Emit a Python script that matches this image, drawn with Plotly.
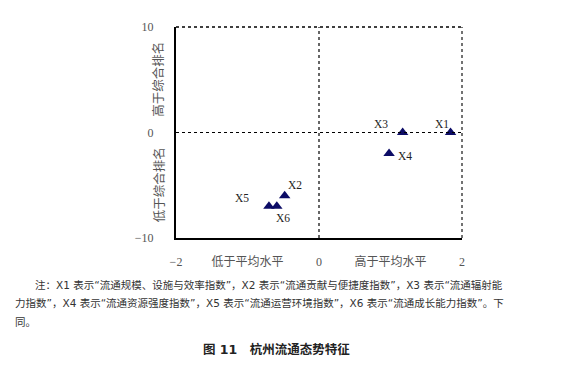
import plotly.graph_objects as go

# Data
labels = ["X1", "X2", "X3", "X4", "X5", "X6"]
x_vals = [1.84, -0.48, 1.17, 0.98, -0.70, -0.59]
y_vals = [0, -6, 0, -2, -7, -7]
# label offsets (pixels) relative to each point
label_dx = [-9, 10, -22, 16, -27, 6]
label_dy = [9, 11, 9, -2, 8, -12]

x_tickvals = [-2, -1, 0, 1, 2]
x_ticktext = ["−2", "低于平均水平", "0", "高于平均水平", "2"]
y_tickvals = [10, 0, -10]
y_ticktext = ["10", "0", "−10"]
y_titles = ["高于综合排名", "低于综合排名"]
y_title_pos = [5, -5]

note_lines = [
    "注：X1 表示“流通规模、设施与效率指数”，X2 表示“流通贡献与便捷度指数”，X3 表示“流通辐射能",
    "力指数”，X4 表示“流通资源强度指数”，X5 表示“流通运营环境指数”，X6 表示“流通成长能力指数”。下",
    "同。",
]
caption = "图 11　杭州流通态势特征"

OFF = 8  # default page body margin
W, H = 579 - OFF, 370 - OFF
L, T = 176 - OFF, 22 - OFF
R = W - (462 - OFF)
B = H - (238 - OFF)
pw, ph = W - L - R, H - T - B


def px_x(px):
    return (px - OFF - L) / pw


def px_y(py):
    return (H - B - (py - OFF)) / ph


serif = "Liberation Serif, DejaVu Serif, Noto Sans CJK SC"
sans = "DejaVu Sans, Noto Sans CJK SC"

fig = go.Figure()
fig.add_trace(go.Scatter(
    x=x_vals, y=y_vals, mode="markers",
    marker=dict(symbol="triangle-up", size=10, color="#0c0c66"),
    hoverinfo="skip", showlegend=False,
))

annotations = []
for lab, xv, yv, dx, dy in zip(labels, x_vals, y_vals, label_dx, label_dy):
    annotations.append(dict(x=xv, y=yv, xref="x", yref="y", text=lab, showarrow=False,
                            xshift=dx, yshift=dy, font=dict(family=serif, size=11.5, color="#222")))

for t, yp in zip(y_titles, y_title_pos):
    annotations.append(dict(x=0, y=yp, xref="paper", yref="y", text=t, showarrow=False,
                            textangle=-90, xshift=-17, xanchor="center", yanchor="middle",
                            font=dict(family=serif, size=12.5, color="#555")))

note_pos = [(33, 286), (13, 305), (13, 324)]
for t, (px, py) in zip(note_lines, note_pos):
    annotations.append(dict(x=px_x(px), y=px_y(py), xref="paper", yref="paper", text=t,
                            showarrow=False, xanchor="left", yanchor="middle",
                            font=dict(family=sans, size=10.5, color="#333")))

annotations.append(dict(x=px_x(276), y=px_y(352), xref="paper", yref="paper",
                        text="<b>" + caption + "</b>", showarrow=False,
                        xanchor="center", yanchor="middle",
                        font=dict(family=sans, size=12.5, color="#222")))

shapes = [
    dict(type="line", xref="x", yref="y", x0=0, x1=0, y0=-10, y1=10,
         line=dict(color="black", width=1.2, dash="dot")),
    dict(type="line", xref="x", yref="y", x0=-2, x1=2, y0=0, y1=0,
         line=dict(color="black", width=1.2, dash="dot")),
    dict(type="line", xref="paper", yref="paper", x0=0, x1=1, y0=1, y1=1,
         line=dict(color="black", width=1.5, dash="dot")),
    dict(type="line", xref="paper", yref="paper", x0=1, x1=1, y0=0, y1=1,
         line=dict(color="#444", width=1.5, dash="dot")),
]

fig.update_layout(
    width=W, height=H,
    margin=dict(l=L, r=R, t=T, b=B, pad=0),
    paper_bgcolor="white", plot_bgcolor="white",
    showlegend=False,
    annotations=annotations,
    shapes=shapes,
    xaxis=dict(range=[-2, 2], tickvals=x_tickvals, ticktext=x_ticktext,
               showgrid=False, zeroline=False, showline=True, linecolor="black", linewidth=2,
               ticks="", ticklabelstandoff=12,
               tickfont=dict(family=serif, size=12, color="#555")),
    yaxis=dict(range=[-10, 10], tickvals=y_tickvals, ticktext=y_ticktext,
               showgrid=False, zeroline=False, showline=True, linecolor="black", linewidth=2,
               ticks="", ticklabelstandoff=18,
               tickfont=dict(family=serif, size=12, color="#555")),
)

fig.write_html("out.html")
